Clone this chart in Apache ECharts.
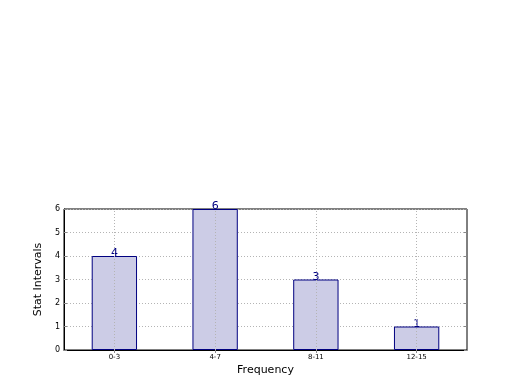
<!DOCTYPE html>
<html>
<head>
<meta charset="utf-8">
<script src="https://cdn.jsdelivr.net/npm/echarts@6/dist/echarts.min.js"></script>
<style>html,body{margin:0;padding:0;background:#fff;}#c{width:520px;height:390px;}</style>
</head>
<body>
<div id="c"></div>
<script>
const categories = ['0-3', '4-7', '8-11', '12-15'];
const values = [4, 6, 3, 1];
const yTicks = [0, 1, 2, 3, 4, 5, 6];

const chart = echarts.init(document.getElementById('c'), null, {renderer: 'canvas'});
const font = 'DejaVu Sans';
const gridColor = '#b4b4b4';
chart.setOption({
  animation: false,
  backgroundColor: '#fff',
  grid: {left: 64, right: 53, top: 209, bottom: 40, show: true, borderColor: '#000', borderWidth: 1, backgroundColor: 'transparent'},
  xAxis: [{
    type: 'category', data: categories, boundaryGap: true,
    name: 'Frequency', nameLocation: 'middle', nameGap: 15,
    nameTextStyle: {fontFamily: font, fontSize: 11, color: '#000'},
    axisLine: {show: true, lineStyle: {color: '#000', width: 1}},
    axisTick: {show: true, inside: true, alignWithLabel: true, length: 3, lineStyle: {color: '#888'}},
    axisLabel: {fontFamily: font, fontSize: 7, color: '#000', margin: 4},
    splitLine: {show: false}
  }, {
    type: 'category', data: categories, boundaryGap: true, position: 'top',
    axisLine: {show: false},
    axisTick: {show: true, inside: true, alignWithLabel: true, length: 3, lineStyle: {color: '#888'}},
    axisLabel: {show: false}, splitLine: {show: false}
  }],
  yAxis: [{
    type: 'value', min: yTicks[0], max: yTicks[yTicks.length - 1], interval: 1,
    name: 'Stat Intervals', nameLocation: 'middle', nameGap: 11,
    nameTextStyle: {fontFamily: font, fontSize: 11, color: '#000'},
    axisLine: {show: true, lineStyle: {color: '#000', width: 1}},
    axisTick: {show: true, inside: true, length: 3, lineStyle: {color: '#888'}},
    axisLabel: {fontFamily: font, fontSize: 8, color: '#000', margin: 4},
    splitLine: {show: true, lineStyle: {color: gridColor, type: [1, 2], width: 1}}
  }, {
    type: 'value', min: yTicks[0], max: yTicks[yTicks.length - 1], interval: 1, position: 'right',
    axisLine: {show: false},
    axisTick: {show: true, inside: true, length: 3, lineStyle: {color: '#888'}},
    axisLabel: {show: false}, splitLine: {show: false}
  }],
  series: [{
    type: 'bar', data: values, barWidth: '45%',
    itemStyle: {color: '#CCCCE6', borderColor: '#000080', borderWidth: 1},
    label: {show: true, position: 'top', distance: -3, fontFamily: font, fontSize: 11, color: '#000080'},
    markLine: {
      silent: true, symbol: 'none', label: {show: false},
      lineStyle: {color: gridColor, type: [1, 2], width: 1},
      data: categories.map(c => ({xAxis: c}))
    }
  }]
});
</script>
</body>
</html>
